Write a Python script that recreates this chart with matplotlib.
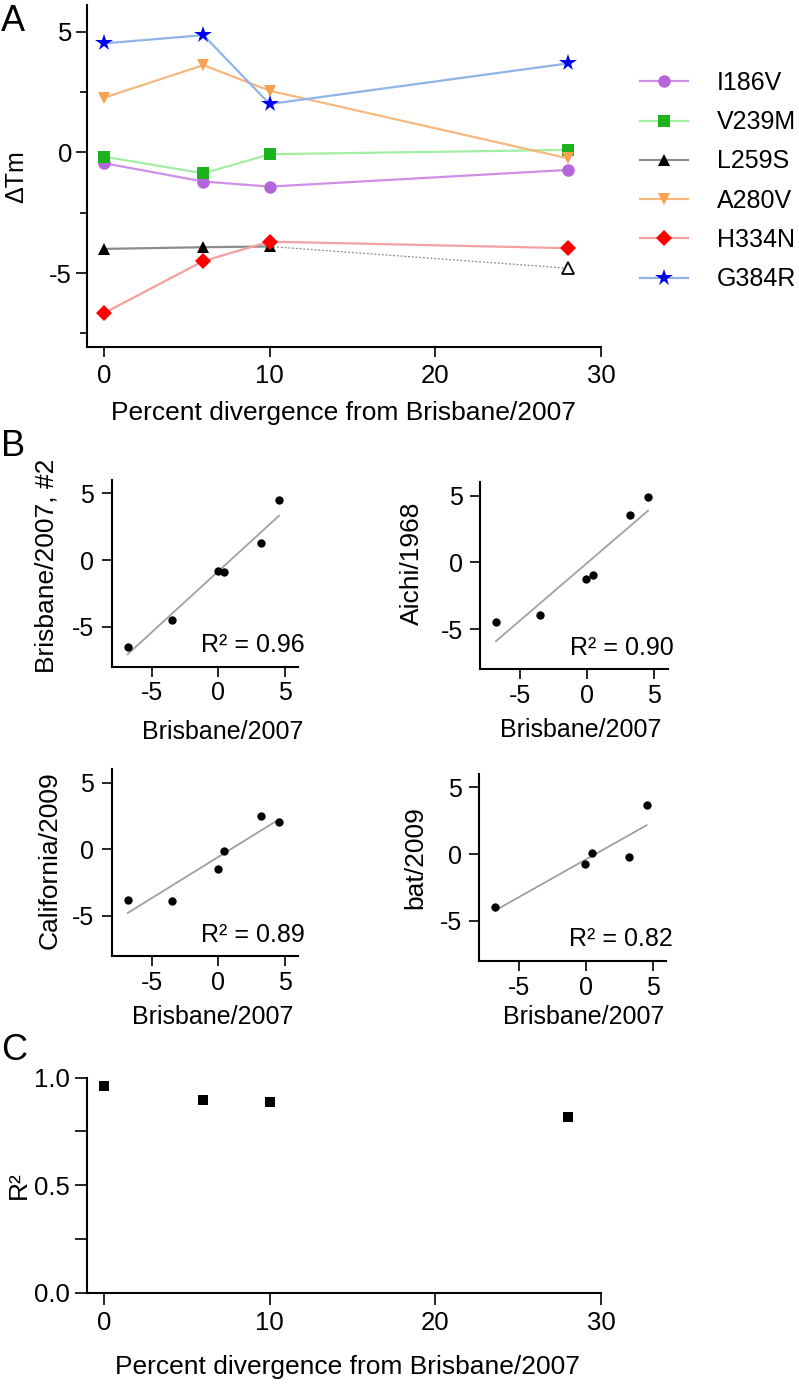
import numpy as np
import matplotlib
matplotlib.use('Agg')
import matplotlib.pyplot as plt
from matplotlib.ticker import FixedLocator

plt.rcParams['font.family'] = ['Liberation Sans', 'DejaVu Sans']
plt.rcParams['axes.unicode_minus'] = False

W, H = 799, 1384

# ---- panel A: delta Tm vs percent divergence
pct = [0, 6, 10, 28]
mutants = ['I186V', 'V239M', 'L259S', 'A280V', 'H334N', 'G384R']
I186V = [-0.45, -1.21, -1.42, -0.73]
V239M = [-0.18, -0.87, -0.08, 0.10]
L259S = [-4.00, -3.93, -3.90, -4.80]   # last point is the open one (dotted)
A280V = [2.26, 3.61, 2.55, -0.25]
H334N = [-6.66, -4.50, -3.70, -3.97]
G384R = [4.51, 4.85, 2.00, 3.68]

line_cols = ['#cf8fe6', '#a3eea3', '#8c8c8c', '#f6b87d', '#f2a0a0', '#8fb5e8']
mark_cols = ['#b565d9', '#1db31d', '#000000', '#f8a14e', '#ff0000', '#0000ee']
markers = ['o', 's', '^', 'v', 'D', '*']
msizes = [9, 8.5, 9, 9, 8, 13]

# ---- panel B: correlations against Brisbane/2007
# order: H334N, L259S, I186V, V239M, A280V, G384R
brisbane = [-6.8, -3.5, -0.05, 0.45, 3.2, 4.55]
brisbane2 = [-6.5, -4.475, -0.85, -0.93, 1.25, 4.475]
aichi = [-4.45, -3.9, -1.225, -0.95, 3.575, 4.875]
california = [-3.8, -3.9, -1.45, -0.1, 2.475, 2.025]
bat = [-3.975, np.nan, -0.75, 0.075, -0.25, 3.675]
b_names = ['Brisbane/2007, #2', 'Aichi/1968', 'California/2009', 'bat/2009']
r2_text = ['0.96', '0.90', '0.89', '0.82']

# ---- panel C
r2_vals = [0.961, 0.896, 0.887, 0.817]

fig = plt.figure(figsize=(W / 100, H / 100), dpi=100)


def px_axes(l, t, r, b):
    return fig.add_axes([l / W, 1 - b / H, (r - l) / W, (b - t) / H])


def style(ax, lw=1.5):
    for s in ['top', 'right']:
        ax.spines[s].set_visible(False)
    for s in ['left', 'bottom']:
        ax.spines[s].set_linewidth(lw)


# ================= A
axA = px_axes(87.4, 5, 601, 346.7)
style(axA)
series = [I186V, V239M, L259S, A280V, H334N, G384R]
handles = []
for i, ys in enumerate(series):
    xs, yv = pct, ys
    if mutants[i] == 'L259S':
        xs, yv = pct[:3], ys[:3]
    h, = axA.plot(xs, yv, color=line_cols[i], lw=1.6, marker=markers[i],
                  ms=msizes[i], mfc=mark_cols[i], mec=mark_cols[i], mew=0,
                  label=mutants[i], zorder=3 + i * 0.1)
    handles.append(h)
# dotted continuation to the open triangle
axA.plot(pct[2:], L259S[2:], color='#888888', lw=0.9, ls=(0, (1.5, 1.5)), zorder=2)
axA.plot(pct[3], L259S[3], '^', ms=9, mfc='white', mec='black', mew=1.3, zorder=4)

axA.set_xlim(-1.0, 30)
axA.set_ylim(-8.05, 6.1)
axA.set_xticks([0, 10, 20, 30])
axA.set_yticks([-5, 0, 5])
axA.yaxis.set_minor_locator(FixedLocator([-7.5, -2.5, 2.5]))
axA.tick_params(axis='both', which='major', labelsize=18.5, width=1.2, direction='out')
axA.tick_params(axis='x', which='major', length=7.5, pad=5)
axA.tick_params(axis='y', which='major', length=8, pad=3)
axA.tick_params(axis='y', which='minor', length=5, width=1.2)
axA.set_ylabel('ΔTm', fontsize=18, va='center')
axA.yaxis.set_label_coords(-0.139, 0.497)
axA.set_xlabel('Percent divergence from Brisbane/2007', fontsize=19, va='center')
axA.xaxis.set_label_coords(0.4996, -0.194)

fig.legend(handles=handles, loc='upper left', bbox_to_anchor=(640 / W, 1 - 71 / H),
           frameon=False, fontsize=18, handlelength=1.92, handletextpad=1.16,
           labelspacing=0.61, borderpad=0, borderaxespad=0, numpoints=1)

# ================= B
b_rects = [(111.7, 480, 298.3, 666.7), (480, 482.3, 667.5, 669.3),
           (111.7, 769.3, 298.3, 956), (479, 774, 666, 961)]
b_ylab = [(-0.348, 0.539), (-0.365, 0.568), (-0.334, 0.513), (-0.342, 0.553)]
b_xlab = [(0.596, -0.348), (0.535, -0.325), (0.542, -0.326), (0.561, -0.30)]
b_data = [brisbane2, aichi, california, bat]
for k in range(4):
    ax = px_axes(*b_rects[k])
    style(ax)
    x = np.array(brisbane)
    y = np.array(b_data[k], dtype=float)
    ok = ~np.isnan(y)
    slope, icpt = np.polyfit(x[ok], y[ok], 1)
    xx = np.array([x[ok].min(), x[ok].max()])
    ax.plot(xx, slope * xx + icpt, color='#a0a0a0', lw=1.3, zorder=2)
    ax.plot(x[ok], y[ok], 'o', color='black', ms=6, mew=0, zorder=3)
    ax.set_xlim(-8, 6)
    ax.set_ylim(-8, 6)
    ax.set_xticks([-5, 0, 5])
    ax.set_yticks([-5, 0, 5])
    ax.tick_params(axis='both', labelsize=18, width=1.2, length=7.5, direction='out')
    ax.tick_params(axis='y', pad=5)
    ax.tick_params(axis='x', pad=3)
    ax.set_ylabel(b_names[k], fontsize=19, va='center')
    ax.yaxis.set_label_coords(*b_ylab[k])
    ax.set_xlabel('Brisbane/2007', fontsize=18, va='center')
    ax.xaxis.set_label_coords(*b_xlab[k])
    ax.text(1.035, 0.115, 'R² = ' + r2_text[k], transform=ax.transAxes,
            ha='right', va='center', fontsize=18)

# ================= C
axC = px_axes(87.4, 1077.7, 601, 1292.7)
style(axC)
axC.plot(pct, r2_vals, 's', color='black', ms=7, mew=0, clip_on=False)
axC.set_xlim(-1.0, 30)
axC.set_ylim(0, 1.0)
axC.set_xticks([0, 10, 20, 30])
axC.set_yticks([0.0, 0.5, 1.0])
axC.set_yticklabels(['0.0', '0.5', '1.0'])
axC.yaxis.set_minor_locator(FixedLocator([0.25, 0.75]))
axC.tick_params(axis='both', which='both', labelsize=18.5, width=1.2, length=8.5, direction='out')
axC.tick_params(axis='y', pad=4)
axC.tick_params(axis='x', pad=5)
axC.set_ylabel('R²', fontsize=19, va='center')
axC.yaxis.set_label_coords(-0.134, 0.5)
axC.set_xlabel('Percent divergence from Brisbane/2007', fontsize=19, va='center')
axC.xaxis.set_label_coords(0.507, -0.346)

# panel letters
for lab, (px, py) in zip('ABC', [(13.3, 21.7), (13.3, 446.7), (14, 1050)]):
    fig.text(px / W, 1 - py / H, lab, fontsize=26, ha='center', va='center')

fig.savefig('out.png', dpi=100)
